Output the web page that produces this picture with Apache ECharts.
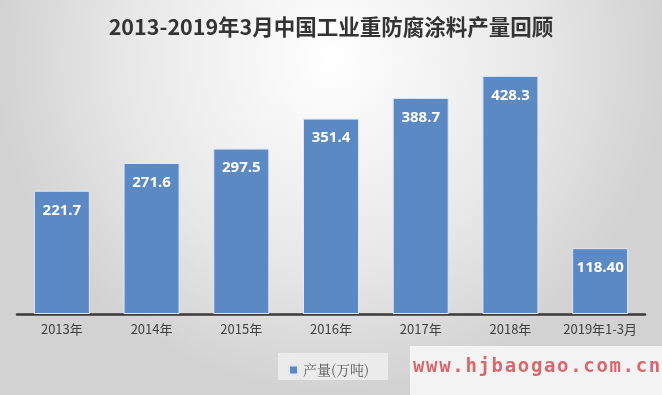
<!DOCTYPE html>
<html><head><meta charset="utf-8">
<script src="https://cdn.jsdelivr.net/npm/echarts@6/dist/echarts.min.js"></script>
<style>html,body{margin:0;padding:0;}#c{width:662px;height:395px;}</style>
</head><body><div id="c"></div>
<script>
const categories = ['2013年','2014年','2015年','2016年','2017年','2018年','2019年1-3月'];
const production = [221.7, 271.6, 297.5, 351.4, 388.7, 428.3, 118.40];
const labelsText = ['221.7','271.6','297.5','351.4','388.7','428.3','118.40'];
const seriesName = '产量(万吨)';
const titleText = '2013-2019年3月中国工业重防腐涂料产量回顾';
const watermark = 'www.hjbaogao.com.cn';

const wmChars = watermark.split('').map((ch, i) => ({
  type: 'text', left: 413 + i * 13.1, top: 358,
  style: {text: ch, fill: '#d9686e', font: 'bold 19px "DejaVu Sans Mono", monospace'}, z: 10
}));

const chart = echarts.init(document.getElementById('c'), null, {renderer:'canvas'});
chart.setOption({
  backgroundColor: {
    type: 'radial', x: 0.5, y: 0.15, r: 0.85,
    colorStops: [{offset:0,color:'#ffffff'},{offset:0.6,color:'#e8e8e8'},{offset:1,color:'#d2d2d2'}]
  },
  title: {
    text: titleText, left: 'center', top: 11,
    textStyle: {fontFamily: '"Noto Sans CJK SC", sans-serif', fontWeight: 'bold', fontSize: 21.5, color: '#333333'}
  },
  graphic: [
    {type:'rect', left: 278, top: 353, shape:{width:110,height:27}, style:{fill:'rgba(240,240,240,0.8)'}, z: 0},
    {type:'rect', left: 410, top: 346, shape:{width:252,height:49}, style:{fill:'#f3f3f3'}, z: 0}
  ].concat(wmChars),
  legend: {
    data: [seriesName], left: 283, top: 358, itemWidth: 9, itemHeight: 9, itemGap: 6,
    icon: 'rect',
    textStyle: {fontFamily: '"Noto Serif CJK SC", "Noto Sans CJK SC", serif', fontSize: 14, color: '#595959'}
  },
  grid: {left: 17, right: 17, top: 36, bottom: 81, containLabel: false},
  xAxis: {
    type: 'category', data: categories,
    axisLine: {lineStyle: {color: '#3a3a3a', width: 2.5}},
    axisTick: {show: false},
    axisLabel: {interval: 0, margin: 9, fontSize: 13, color: '#404040', fontFamily: '"Noto Sans CJK SC", sans-serif'}
  },
  yAxis: {type: 'value', min: 0, max: 500, show: false, splitLine: {show: false}},
  series: [{
    name: seriesName, type: 'bar', data: production, barWidth: 56,
    itemStyle: {color: '#5b89c3', borderColor: '#dfe8f3', borderWidth: 1},
    label: {
      show: true, position: 'insideTop', distance: 12,
      formatter: p => labelsText[p.dataIndex],
      color: '#ffffff', fontWeight: 'bold', fontSize: 15, fontFamily: '"Open Sans", "DejaVu Sans", sans-serif'
    }
  }]
});
</script></body></html>
